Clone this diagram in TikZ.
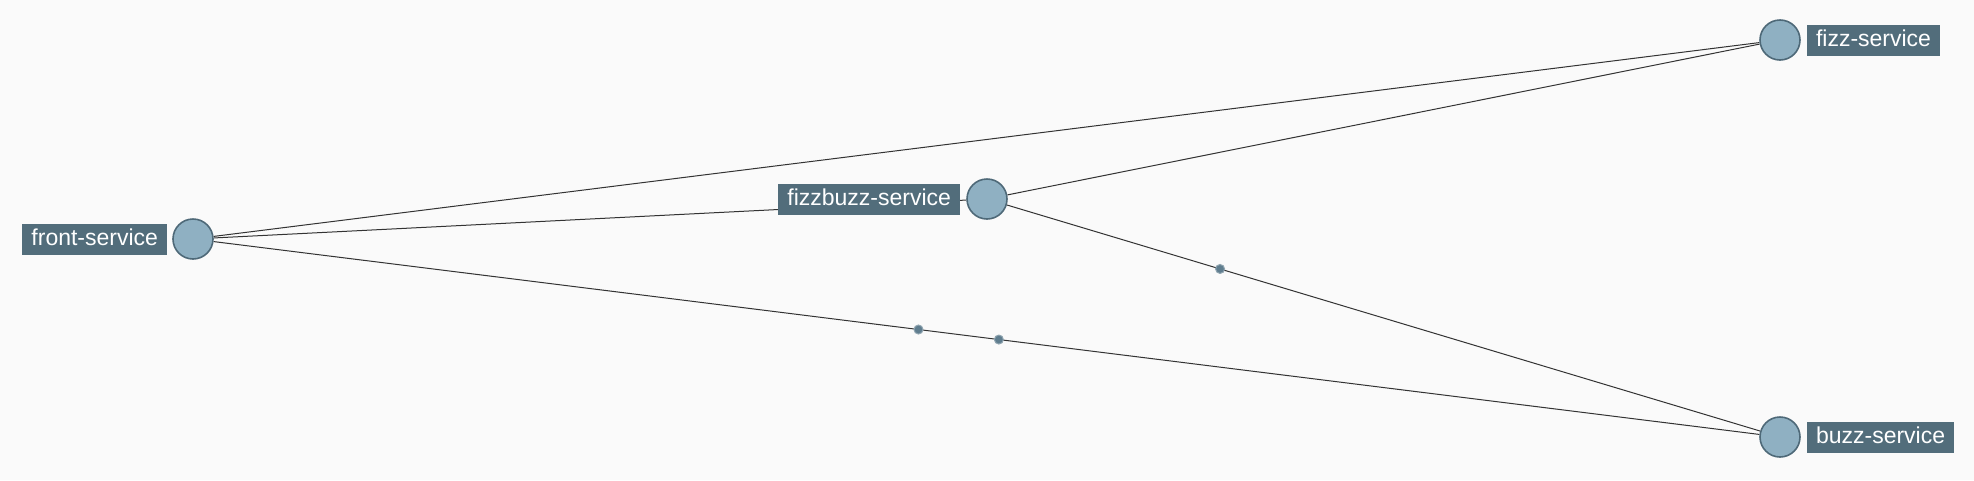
\documentclass[tikz,border=0pt]{standalone}
\usepackage{fontspec}
\setmainfont{Liberation Sans}
\usetikzlibrary{positioning,backgrounds}

\definecolor{paper}{HTML}{FAFAFA}
\definecolor{svcfill}{HTML}{8FB0C2}
\definecolor{svcline}{HTML}{4E6978}
\definecolor{tagfill}{HTML}{526D7B}
\definecolor{hopfill}{HTML}{5F7D8E}

\tikzset{
	svc/.style={circle, draw=svcline, line width=1.6pt, fill=svcfill, minimum size=40pt, inner sep=0pt},
	svctag/.style={fill=tagfill, text=white, inner xsep=9pt, inner ysep=0pt, minimum height=31pt,
		font=\fontsize{23}{27}\selectfont, text height=16.5pt, text depth=4.5pt},
	link/.style={draw=black!80, line width=1pt},
	hop/.style={circle, fill=hopfill, draw=hopfill!70, line width=1pt, minimum size=9pt, inner sep=0pt}
}

\begin{document}
\begin{tikzpicture}[x=1pt,y=1pt]
\useasboundingbox (0,0) rectangle (1974,-480);
\node [svc] (front) at (193,-239) {};
\node [svc] (fizzbuzz) at (987,-199) {};
\node [svc] (fizz) at (1780,-40) {};
\node [svc] (buzz) at (1780,-437) {};
\node [svctag, left=5pt of front] (frontlbl) {front-service};
\node [svctag, left=6pt of fizzbuzz] (fizzbuzzlbl) {fizzbuzz-service};
\node [svctag, right=6pt of fizz] (fizzlbl) {fizz-service};
\node [svctag, right=6pt of buzz] (buzzlbl) {buzz-service};
\begin{scope}[on background layer]
	\fill [paper] (0,0) rectangle (1974,-480);
	\draw [link] (front) -- (fizz);
	\draw [link] (front) -- (fizzbuzz);
	\draw [link] (fizzbuzz) -- (fizz);
	\draw [link] (front) -- node[pos=0.456, hop] (hopa) {} node[pos=0.508, hop] (hopb) {} (buzz);
	\draw [link] (fizzbuzz) -- node[pos=0.283, hop] (hopc) {} (buzz);
\end{scope}
\end{tikzpicture}
\end{document}
